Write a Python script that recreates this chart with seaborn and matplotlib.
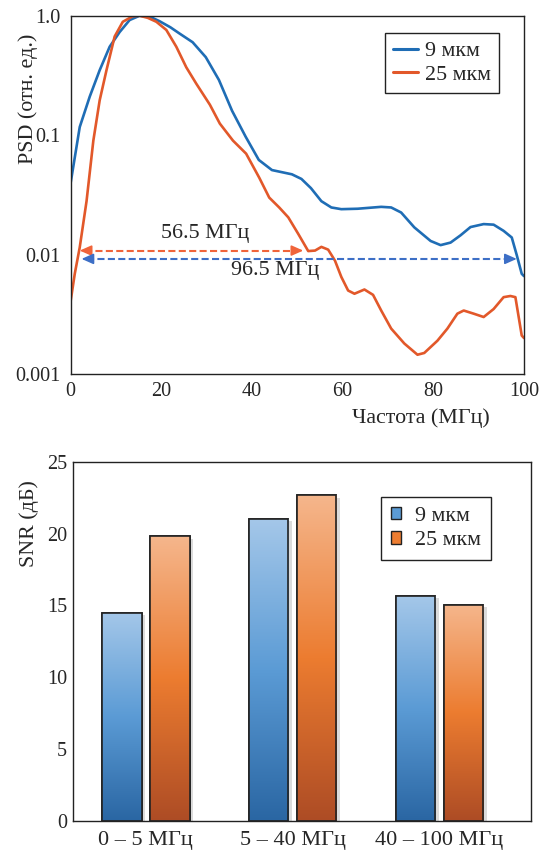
import numpy as np
import pandas as pd
import matplotlib
matplotlib.use("Agg")
import matplotlib.pyplot as plt
import seaborn as sns
from matplotlib.colors import LinearSegmentedColormap
from matplotlib.patches import Patch, Rectangle
from matplotlib.lines import Line2D
import matplotlib.patheffects as pe

# ---------------- data ----------------
series_names = ["9 мкм", "25 мкм"]

freq_9 = [0, 2, 4.2, 6.4, 8.6, 10.8, 13, 15.2, 17.5, 19.6, 22, 24, 26.9, 29.8, 32.7,
          35.6, 38.6, 41.5, 44.4, 48.8, 50.9, 53, 55.3, 57.5, 59.7, 63.3, 68.5, 70.7,
          72.9, 75.8, 79.4, 81.6, 83.8, 86, 88.2, 91.1, 93.3, 95.5, 97.3, 98.4, 99.5, 100]
psd_9 = [0.040, 0.117, 0.21, 0.35, 0.55, 0.73, 0.92, 1.0, 0.98, 0.90, 0.80, 0.71, 0.60,
         0.45, 0.29, 0.16, 0.097, 0.062, 0.051, 0.047, 0.043, 0.036, 0.028, 0.0248, 0.024,
         0.0242, 0.0251, 0.0248, 0.0225, 0.0169, 0.013, 0.012, 0.0126, 0.0145, 0.017,
         0.018, 0.0178, 0.0158, 0.0139, 0.0099, 0.0069, 0.0066]

freq_25 = [0, 0.9, 2, 3.5, 5, 6.4, 7.9, 9.7, 11.5, 13.7, 15.2, 17, 18.9, 21.1, 23.3,
           25.5, 27.7, 30.7, 32.9, 35.8, 38.7, 41.6, 43.8, 46, 48, 50.2, 52.4, 53.9,
           55.3, 56.8, 58.3, 59.7, 61.2, 62.6, 64.8, 66.7, 68.5, 70.7, 73.6, 76.5, 78,
           80.9, 83.1, 85.3, 86.7, 88.9, 91.1, 93.3, 95.5, 97, 98.1, 99.5, 100]
psd_25 = [0.0041, 0.0069, 0.0115, 0.028, 0.09, 0.196, 0.35, 0.67, 0.89, 0.99, 1.0, 0.96,
          0.89, 0.76, 0.55, 0.37, 0.27, 0.18, 0.125, 0.09, 0.07, 0.044, 0.030, 0.0248,
          0.0205, 0.0149, 0.0107, 0.0108, 0.0116, 0.011, 0.0089, 0.0065, 0.005, 0.0047,
          0.0051, 0.0046, 0.0034, 0.0024, 0.0018, 0.00145, 0.0015, 0.0019, 0.0024, 0.0032,
          0.0034, 0.0032, 0.003, 0.0035, 0.0044, 0.0045, 0.0044, 0.0021, 0.0020]

# bandwidth annotations: (x_start, x_end, level)
band_25 = (2.0, 51.3, 0.0108)
band_9 = (2.4, 98.4, 0.0092)
band_25_label = "56.5 МГц"
band_9_label = "96.5 МГц"
band_25_label_pos = (29.6, 0.0137)
band_9_label_pos = (45.1, 0.0067)

psd_yticks = [0.001, 0.01, 0.1, 1.0]
psd_yticklabels = ["0.001", "0.01", "0.1", "1.0"]
psd_xticks = [0, 20, 40, 60, 80, 100]

bands = ["0 – 5 МГц", "5 – 40 МГц", "40 – 100 МГц"]
snr_9 = [14.5, 21.0, 15.65]
snr_25 = [19.8, 22.65, 15.05]
snr_yticks = [0, 5, 10, 15, 20, 25]

# ---------------- style ----------------
FS = 15.8
TS = 14.5
sns.set_style("white")
plt.rcParams["font.family"] = ["Liberation Serif", "DejaVu Serif"]
plt.rcParams["font.size"] = FS
plt.rcParams["xtick.direction"] = "in"
plt.rcParams["ytick.direction"] = "in"
plt.rcParams["axes.edgecolor"] = "#222222"
plt.rcParams["axes.linewidth"] = 1.0

line_blue = "#1f6db5"
line_orange = "#e2582a"
arrow_blue = "#3d6fc6"
arrow_orange = "#f0643a"

fig = plt.figure(figsize=(5.42, 8.5), dpi=100)
ax1 = fig.add_axes([0.1304, 0.56, 0.8364, 0.4215])
ax2 = fig.add_axes([0.1352, 0.0341, 0.8439, 0.4227])

# ---------------- top: PSD ----------------
df_psd = pd.concat([
    pd.DataFrame({"f": freq_9, "psd": psd_9, "d": series_names[0]}),
    pd.DataFrame({"f": freq_25, "psd": psd_25, "d": series_names[1]}),
])
sns.lineplot(data=df_psd, x="f", y="psd", hue="d", palette=[line_blue, line_orange],
             linewidth=1.9, ax=ax1, legend=False, sort=False)
ax1.set_yscale("log")
ax1.set_xlim(0, 100)
ax1.set_ylim(0.001, 1.0)
ax1.set_yticks(psd_yticks)
ax1.set_yticklabels(psd_yticklabels)
ax1.set_xticks(psd_xticks)
ax1.yaxis.set_minor_locator(matplotlib.ticker.NullLocator())
ax1.tick_params(axis="both", length=5, width=1.0, labelsize=TS, color="#222222")
ax1.tick_params(axis="x", pad=6)
ax1.tick_params(axis="y", pad=7)
ax1.set_xlabel("Частота (МГц)", fontsize=FS)
ax1.set_ylabel("PSD (отн. ед.)", fontsize=FS)
ax1.xaxis.set_label_coords(0.772, -0.095)
ax1.yaxis.set_label_coords(-0.072, 0.767)

for (x0, x1, lvl), col in [(band_25, arrow_orange), (band_9, arrow_blue)]:
    ax1.plot([x0 + 1.2, x1 - 1.2], [lvl, lvl], ls=(0, (3.4, 1.6)), color=col, lw=1.5)
    for tip, tail in [(x0, x0 + 1.5), (x1, x1 - 1.5)]:
        ax1.annotate("", xy=(tip, lvl), xytext=(tail, lvl),
                     arrowprops=dict(arrowstyle="-|>,head_length=0.45,head_width=0.2",
                                     color=col, lw=1.2, shrinkA=0, shrinkB=0))
ax1.text(*band_25_label_pos, band_25_label, ha="center", va="baseline", fontsize=FS)
ax1.text(*band_9_label_pos, band_9_label, ha="center", va="baseline", fontsize=FS)

h1 = [Line2D([], [], color=line_blue, lw=2.2), Line2D([], [], color=line_orange, lw=2.2)]
leg1 = ax1.legend(h1, series_names, loc="upper left", bbox_to_anchor=(0.693, 0.951),
                  frameon=True, fancybox=False, framealpha=1, edgecolor="#222222",
                  fontsize=FS, handlelength=1.15, handletextpad=0.35, borderpad=0.35,
                  labelspacing=0.15, borderaxespad=0)
leg1.get_frame().set_linewidth(1.0)

# ---------------- bottom: SNR ----------------
df_snr = pd.DataFrame({
    "band": bands * 2,
    "snr": snr_9 + snr_25,
    "d": [series_names[0]] * len(bands) + [series_names[1]] * len(bands),
})
bar_mid = ["#5b9bd5", "#ed7d31"]
sns.barplot(data=df_snr, x="band", y="snr", hue="d", palette=bar_mid, width=0.654,
            gap=0.174, edgecolor="#222222", linewidth=1.2, ax=ax2, legend=False,
            errorbar=None, saturation=1)

cmaps = [
    LinearSegmentedColormap.from_list("b", ["#2a66a3", "#5b9bd5", "#a4c7e9"]),
    LinearSegmentedColormap.from_list("o", ["#ad4c25", "#ec7c30", "#f5b68c"]),
]
grad = np.linspace(0, 1, 256).reshape(-1, 1)
n = len(bands)
for i, p in enumerate(ax2.patches[:2 * n]):
    cm = cmaps[i // n]
    p.set_path_effects([pe.SimplePatchShadow(offset=(2.5, -1.5), shadow_rgbFace="#888888",
                                             alpha=0.3), pe.Normal()])
    x0, w, h = p.get_x(), p.get_width(), p.get_height()
    im = ax2.imshow(grad, cmap=cm, origin="lower", aspect="auto",
                    extent=[x0, x0 + w, 0, h], zorder=p.get_zorder() + 0.1)
    im.set_clip_path(p)
    ax2.add_patch(Rectangle((x0, 0), w, h, fill=False, edgecolor="#222222", lw=1.2,
                            zorder=p.get_zorder() + 0.2))

ax2.set_xlim(-0.494, 2.621)
ax2.set_ylim(0, 25)
ax2.set_yticks(snr_yticks)
ax2.tick_params(axis="y", length=5, width=1.0, labelsize=TS, color="#222222", pad=4.5)
ax2.tick_params(axis="x", length=0, labelsize=16, pad=7)
ax2.set_xlabel("")
ax2.set_ylabel("SNR (дБ)", fontsize=FS)
ax2.yaxis.set_label_coords(-0.076, 0.829)

h2 = [Patch(facecolor=bar_mid[0], edgecolor="#222222"),
      Patch(facecolor=bar_mid[1], edgecolor="#222222")]
leg2 = ax2.legend(h2, series_names, loc="upper left", bbox_to_anchor=(0.672, 0.9026),
                  frameon=True, fancybox=False, framealpha=1, edgecolor="#222222",
                  fontsize=FS, handlelength=0.48, handleheight=0.5, handletextpad=0.65,
                  borderpad=0.45, labelspacing=0.25, borderaxespad=0)
leg2.get_frame().set_linewidth(1.0)

fig.savefig("out.png", dpi=100)
